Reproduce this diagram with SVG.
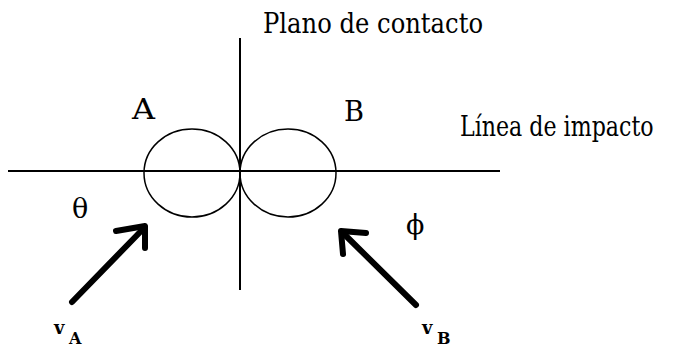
<svg xmlns="http://www.w3.org/2000/svg" width="675" height="347" viewBox="0 0 675 347">
<style>
.t{font-family:"DejaVu Serif","Liberation Serif",serif;font-size:27px;fill:#000}
.b{font-family:"DejaVu Serif","Liberation Serif",serif;font-weight:bold;fill:#000}
.ln{stroke:#000;stroke-width:2;fill:none}
.c{stroke:#000;stroke-width:1.5;fill:none}
.ar{stroke:#000;stroke-width:6;fill:none;stroke-linecap:round;stroke-linejoin:round}
</style>
<rect width="675" height="347" fill="#fff"/>
<g id="connectors">
<line class="ln" x1="8" y1="171" x2="500" y2="171"/>
<line class="ln" x1="240" y1="38" x2="240" y2="290"/>
<g id="arrowA">
<line class="ar" x1="72" y1="302" x2="144" y2="228"/>
<polyline class="ar" points="116,231 145,226 145,248"/>
</g>
<g id="arrowB">
<line class="ar" x1="416" y1="305" x2="343" y2="233"/>
<polyline class="ar" points="366,233 341,231 343,254"/>
</g>
</g>
<g id="ballA"><ellipse class="c" cx="192" cy="173" rx="48" ry="44"/></g>
<g id="ballB"><ellipse class="c" cx="288" cy="173" rx="48" ry="44"/></g>
<g id="labels">
<text class="t" x="263" y="33" textLength="220" lengthAdjust="spacingAndGlyphs">Plano de contacto</text>
<text class="t" x="132" y="119" textLength="23" lengthAdjust="spacingAndGlyphs">A</text>
<text class="t" x="344" y="121" textLength="20" lengthAdjust="spacingAndGlyphs">B</text>
<text class="t" transform="translate(460,136) scale(0.82,1)" x="0" y="0" font-size="25">Línea de impacto</text>
<text class="t" x="72" y="218" font-size="20">θ</text>
<text class="t" x="406" y="234" font-size="22">ϕ</text>
<text class="b" x="54" y="334" font-size="18">v</text>
<text class="b" x="69" y="344" font-size="16">A</text>
<text class="b" x="422" y="334" font-size="18">v</text>
<text class="b" x="437" y="344" font-size="16">B</text>
</g>
</svg>
